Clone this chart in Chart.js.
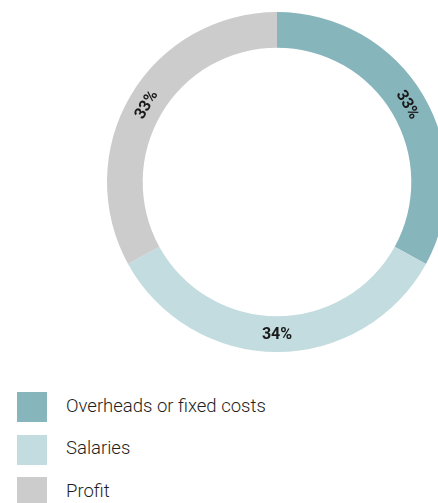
<!DOCTYPE html>
<html>
<head>
<meta charset="utf-8">
<script src="https://cdn.jsdelivr.net/npm/chart.js@4/dist/chart.umd.min.js"></script>
<style>
  html, body { margin: 0; padding: 0; background: #fff; }
  body { width: 438px; height: 503px; overflow: hidden; position: relative; font-family: Roboto, "Noto Sans", sans-serif; }
  #wrap { position: absolute; left: 0; top: 0; width: 554px; height: 364px; }
  #legend { position: absolute; left: 17px; top: 392px; margin: 0; padding: 0; list-style: none; }
  #legend li { display: flex; align-items: center; height: 30px; margin-bottom: 12.5px; font-size: 18.5px; font-weight: 300; color: #1e1e1e; }
  #legend li .txt { position: relative; top: -1.5px; }
  #legend span.box { width: 30px; height: 30px; margin-right: 19px; flex: none; }
</style>
</head>
<body>
<div id="wrap"><canvas id="plot"></canvas></div>
<ul id="legend"></ul>
<script>
// cost breakdown
const categories = ["Overheads or fixed costs", "Salaries", "Profit"];
const shares = [33, 34, 33];
const colors = ["#86b5bc", "#c2dcdf", "#cccccc"];

// writes the percentage on each ring segment, turned along the arc
const arcLabels = {
    id: "arcLabels",
    afterDatasetsDraw(chart) {
        const ctx = chart.ctx;
        const values = chart.data.datasets[0].data;
        const total = values.reduce((a, b) => a + b, 0);
        chart.getDatasetMeta(0).data.forEach((arc, i) => {
            const p = arc.getProps(["x", "y", "startAngle", "endAngle", "innerRadius", "outerRadius"], true);
            const mid = (p.startAngle + p.endAngle) / 2;
            const r = (p.innerRadius + p.outerRadius) / 2;
            let rot = mid + Math.PI / 2;
            let norm = ((rot % (2 * Math.PI)) + 2 * Math.PI) % (2 * Math.PI);
            if (norm > Math.PI / 2 + 0.001 && norm < 3 * Math.PI / 2 + 0.001) rot -= Math.PI;
            ctx.save();
            ctx.translate(p.x + r * Math.cos(mid), p.y + r * Math.sin(mid));
            ctx.rotate(rot);
            ctx.font = "bold 16px Roboto";
            ctx.fillStyle = "#1a1a1a";
            ctx.textAlign = "center";
            ctx.textBaseline = "middle";
            ctx.fillText(Math.round(values[i] / total * 100) + "%", 0, 1);
            ctx.restore();
        });
    }
};

const chart = new Chart(document.getElementById("plot"), {
    type: "doughnut",
    data: {
        labels: categories,
        datasets: [{
            data: shares,
            backgroundColor: colors,
            borderWidth: 0
        }]
    },
    options: {
        responsive: true,
        maintainAspectRatio: false,
        animation: false,
        cutout: "79%",
        layout: { padding: 12 },
        plugins: {
            legend: { display: false },
            tooltip: { enabled: false }
        }
    },
    plugins: [arcLabels]
});

// legend list built from the chart's own labels
const legend = document.getElementById("legend");
chart.data.labels.forEach((label, i) => {
    const li = document.createElement("li");
    const box = document.createElement("span");
    box.className = "box";
    box.style.background = chart.data.datasets[0].backgroundColor[i];
    const txt = document.createElement("span");
    txt.className = "txt";
    txt.textContent = label;
    li.appendChild(box);
    li.appendChild(txt);
    legend.appendChild(li);
});
</script>
</body>
</html>
